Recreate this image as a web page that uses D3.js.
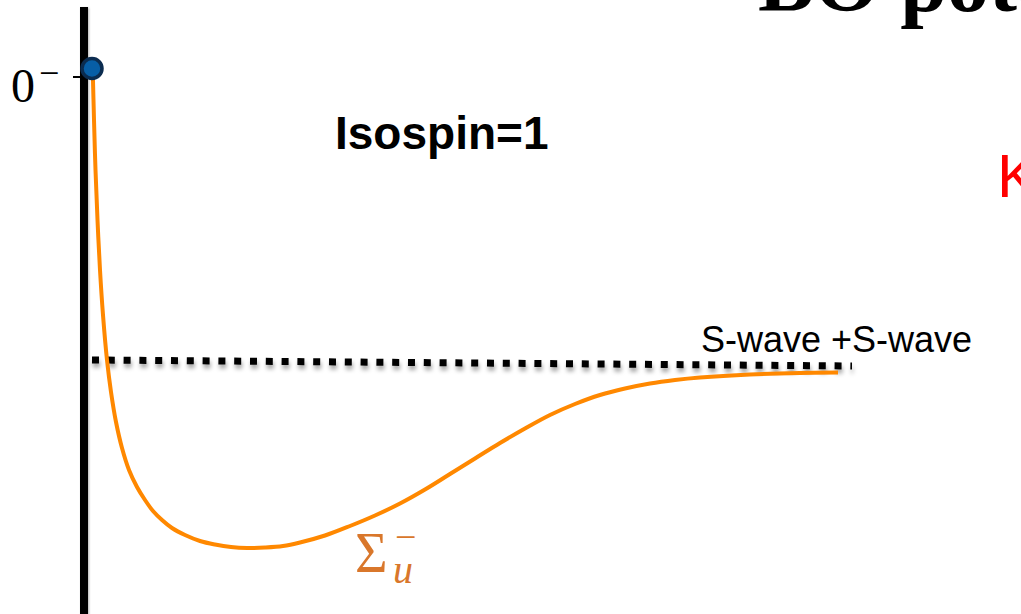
<!DOCTYPE html>
<html>
<head>
<meta charset="utf-8">
<script src="https://cdn.jsdelivr.net/npm/d3@7"></script>
<style>
  html, body { margin: 0; padding: 0; background: #fff; }
  svg { display: block; }
</style>
</head>
<body>
<svg id="chart" width="1021" height="614"></svg>
<script>
// Born–Oppenheimer potential sketch, isospin 1 channel.
// Separation r and energy V in arbitrary units (threshold ≈ 0).
const curveR = [8.7, 10, 11.5, 13.5, 16, 19, 23, 27, 32, 38, 45, 53, 61, 69, 78, 88,
                101, 116, 131, 147, 163, 181, 199, 216, 241, 266, 291, 316, 341, 366,
                391, 416, 441, 466, 491, 516, 541, 566, 591, 616, 666, 716, 754];
const curveV = [296, 244, 194, 144, 94, 49, 4, -28, -58, -84, -106, -123, -136, -147,
                -156, -164, -171, -177, -180.5, -183, -184, -183.5, -182, -178.5, -171.5,
                -162, -151.5, -139.5, -125.5, -110, -94.5, -79, -64.5, -51, -40, -31,
                -24.5, -19.5, -16, -13.5, -10.5, -9, -8.5];

// S-wave + S-wave threshold (end points)
const thresholdR = [8, 768];
const thresholdV = [4, -2];

// short-distance limit marker and its tick
const markerR = [8];
const markerV = [295.5];
const tickV = [287];
const tickLabels = ["0", "−"];

const svg = d3.select("#chart");
const W = 1021, H = 614;

svg.append("rect").attr("width", W).attr("height", H).attr("fill", "#fff");

const x = d3.scaleLinear().domain([0, 768]).range([84, 852]);
const y = d3.scaleLinear().domain([-200, 300]).range([564, 64]);

const defs = svg.append("defs");
const sh = defs.append("filter").attr("id", "shadow")
  .attr("filterUnits", "userSpaceOnUse")
  .attr("x", -200).attr("y", -50).attr("width", W + 400).attr("height", H + 100);
sh.append("feDropShadow").attr("dx", 1).attr("dy", 4).attr("stdDeviation", 2)
  .attr("flood-color", "#000").attr("flood-opacity", 0.35);
const sh2 = defs.append("filter").attr("id", "axisShadow")
  .attr("filterUnits", "userSpaceOnUse")
  .attr("x", -200).attr("y", -50).attr("width", W + 400).attr("height", H + 100);
sh2.append("feDropShadow").attr("dx", 1).attr("dy", 1).attr("stdDeviation", 1.2)
  .attr("flood-color", "#000").attr("flood-opacity", 0.3);

// Title (runs off the right edge)
svg.append("text")
  .attr("x", 758).attr("y", 11)
  .attr("font-family", "Liberation Serif, Times New Roman, serif")
  .attr("font-weight", "bold")
  .attr("font-size", 84)
  .attr("fill", "#000")
  .text("BO potentials");

// Red side note
svg.append("text")
  .attr("x", 997).attr("y", 197)
  .attr("font-family", "Liberation Sans, Arial, sans-serif")
  .attr("font-size", 61)
  .attr("fill", "#ff0000")
  .text("K");

// Vertical energy axis
const axis = d3.axisRight(y).tickValues([]).tickSizeOuter(0);
const axisG = svg.append("g")
  .attr("transform", `translate(${x(0)},0)`)
  .call(axis);
axisG.select(".domain")
  .attr("d", `M0,7V${H}`)
  .attr("stroke", "#000")
  .attr("stroke-width", 8)
  .attr("filter", "url(#axisShadow)");

// Threshold line
const thr = thresholdR.map((r, i) => [r, thresholdV[i]]);
svg.append("path")
  .datum(thr)
  .attr("d", d3.line().x(d => x(d[0])).y(d => y(d[1])))
  .attr("fill", "none")
  .attr("stroke", "#000")
  .attr("stroke-width", 7)
  .attr("stroke-dasharray", "7 8.8")
  .attr("filter", "url(#shadow)");

svg.append("text")
  .attr("x", 701).attr("y", 352)
  .attr("font-family", "Liberation Sans, Arial, sans-serif")
  .attr("font-size", 36)
  .attr("fill", "#000")
  .text("S-wave +S-wave");

// Potential curve
const pts = curveR.map((r, i) => [r, curveV[i]]);
svg.append("path")
  .datum(pts)
  .attr("d", d3.line().x(d => x(d[0])).y(d => y(d[1])).curve(d3.curveCatmullRom.alpha(0.5)))
  .attr("fill", "none")
  .attr("stroke", "#ff8800")
  .attr("stroke-width", 4);

// Tick and label at the short-distance end
svg.append("line")
  .attr("x1", x(0) - 11).attr("x2", x(markerR[0]) + 1)
  .attr("y1", y(tickV[0])).attr("y2", y(tickV[0]))
  .attr("stroke", "#000").attr("stroke-width", 2);

const lab = svg.append("text")
  .attr("font-family", "Liberation Serif, Times New Roman, serif")
  .attr("fill", "#000");
lab.append("tspan").attr("x", 11).attr("y", 102).attr("font-size", 48).text(tickLabels[0]);
lab.append("tspan").attr("x", 39).attr("y", 85).attr("font-size", 36).text(tickLabels[1]);

svg.selectAll("circle.marker")
  .data(markerR.map((r, i) => [r, markerV[i]]))
  .join("circle")
  .attr("class", "marker")
  .attr("cx", d => x(d[0])).attr("cy", d => y(d[1]))
  .attr("r", 10)
  .attr("fill", "#075ea6")
  .attr("stroke", "#0b2c50")
  .attr("stroke-width", 3.5);

// Channel label
svg.append("text")
  .attr("x", 335).attr("y", 149)
  .attr("font-family", "Liberation Sans, Arial, sans-serif")
  .attr("font-weight", "bold")
  .attr("font-size", 46)
  .attr("fill", "#000")
  .text("Isospin=1");

// Σ_u^- state label
const sig = svg.append("text")
  .attr("font-family", "Liberation Serif, Times New Roman, serif")
  .attr("fill", "#d9772b");
sig.append("tspan").attr("x", 355).attr("y", 572).attr("font-size", 56).text("Σ");
sig.append("tspan").attr("x", 395).attr("y", 550).attr("font-size", 38).text("−");
sig.append("tspan").attr("x", 393).attr("y", 583).attr("font-size", 40)
  .attr("font-style", "italic").text("u");
</script>
</body>
</html>
